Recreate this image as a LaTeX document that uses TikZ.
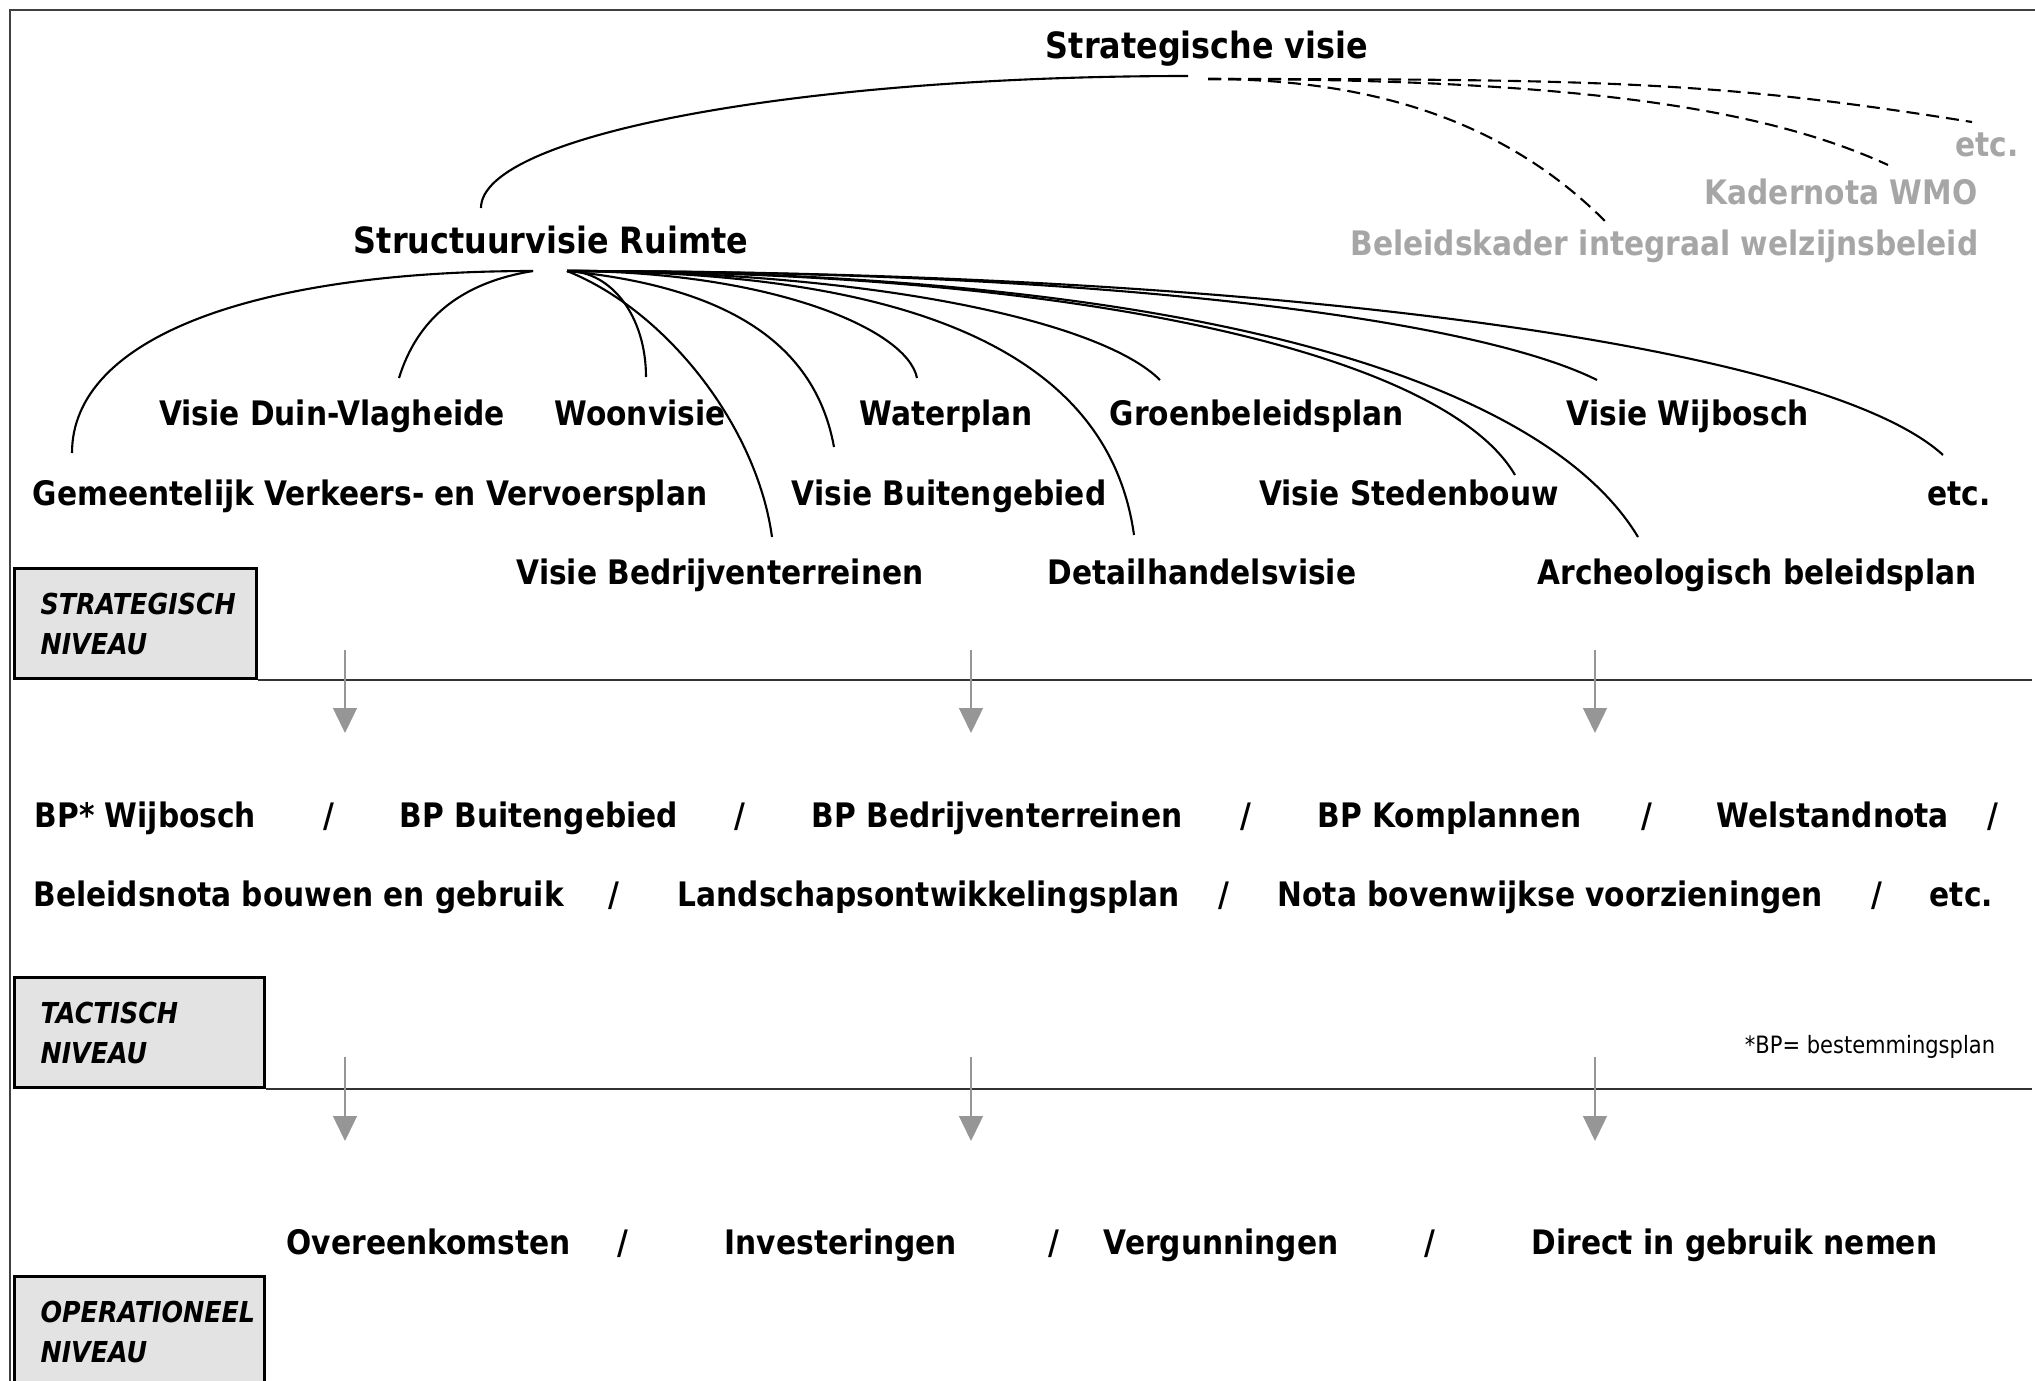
\documentclass[tikz,border=0pt]{standalone}
\usepackage{fontspec}
\setmainfont[FakeStretch=0.88]{DejaVu Sans}
\usepackage{tikz}
\usetikzlibrary{arrows.meta,calc}
\definecolor{notegray}{RGB}{166,166,166}
\definecolor{arrowgray}{RGB}{150,150,150}
\definecolor{boxgray}{RGB}{227,227,227}

\begin{document}
\begin{tikzpicture}[x=0.1mm,y=0.1mm,
  plan/.style={font=\bfseries\fontsize{9.6}{11}\selectfont, inner sep=0pt, text height=7pt, text depth=0pt},
  topplan/.style={plan, font=\bfseries\fontsize{10.3}{12}\selectfont, text height=7.5pt},
  otherplan/.style={plan, text=notegray, anchor=east},
  rowitem/.style={plan, anchor=west},
  levelbox/.style={draw, line width=0.9pt, fill=boxgray, anchor=north west, minimum height=11mm,
    inner xsep=2.6mm, inner ysep=0pt, align=left, font=\bfseries\itshape\fontsize{8.2}{11.4}\selectfont},
  branch/.style={line width=0.6pt},
  otherbranch/.style={branch, dash pattern=on 1.3mm off 0.7mm},
  levelline/.style={line width=0.6pt, draw=black!80},
  levelarrow/.style={draw=arrowgray, line width=0.4pt, -{Triangle[width=2.4mm,length=2.5mm]}}]
  \useasboundingbox (0,0) rectangle (2035,-1381);
  \draw[line width=0.6pt, black!75] (2035,-10) -| (10,-1381);
  % top of the tree
  \node[topplan] (sv) at (1207,-45) {Strategische visie};
  \node[topplan] (sr) at (551,-240) {Structuurvisie Ruimte};
  \node[otherplan] (et1) at (2019,-144) {etc.};
  \node[otherplan] (kn) at (1978,-192) {Kadernota WMO};
  \node[otherplan] (bk) at (1979,-243) {Beleidskader integraal welzijnsbeleid};
  \draw[branch] ($(sv)+(-19,-31)$) .. controls +(-390,0) and +(0,73) .. ($(sr)+(-70,32)$);
  \draw[otherbranch] ($(sv)+(1,-34)$) .. controls +(200,0) and +(-80,80) .. ($(bk.east)+(-373,21)$);
  \draw[otherbranch] ($(sv)+(1,-34)$) .. controls +(350,0) and +(-130,60) .. ($(kn.east)+(-90,27)$);
  \draw[otherbranch] ($(sv)+(1,-34)$) .. controls +(400,0) and +(-250,40) .. ($(et1.east)+(-47,22)$);
  % visies under the structuurvisie
  \node[plan] (dv) at (332,-413) {Visie Duin-Vlagheide};
  \node[plan] (wv) at (640,-413) {Woonvisie};
  \node[plan] (wp) at (946,-413) {Waterplan};
  \node[plan] (gb) at (1257,-413) {Groenbeleidsplan};
  \node[plan] (vw) at (1688,-413) {Visie Wijbosch};
  \node[plan] (gvv) at (370,-493) {Gemeentelijk Verkeers- en Vervoersplan};
  \node[plan] (vb) at (949,-493) {Visie Buitengebied};
  \node[plan] (vs) at (1409,-493) {Visie Stedenbouw};
  \node[plan] (et2) at (1959,-493) {etc.};
  \node[plan] (vbt) at (720,-572) {Visie Bedrijventerreinen};
  \node[plan] (dh) at (1202,-572) {Detailhandelsvisie};
  \node[plan] (ab) at (1757,-572) {Archeologisch beleidsplan};
  \draw[branch] ($(sr)+(-18,-31)$) .. controls +(-280,0) and +(0,115) .. ($(gvv)+(-298,40)$);
  \draw[branch] ($(sr)+(-18,-31)$) .. controls +(-74,-12) and +(18,58) .. ($(dv)+(67,35)$);
  \draw[branch] ($(sr)+(16,-31)$) .. controls +(45,0) and +(0,60) .. ($(wv)+(6,36)$);
  \draw[branch] ($(sr)+(16,-31)$) .. controls +(100,-40) and +(-15,110) .. ($(vbt)+(52,35)$);
  \draw[branch] ($(sr)+(16,-31)$) .. controls +(150,-15) and +(-20,110) .. ($(vb)+(-115,46)$);
  \draw[branch] ($(sr)+(16,-31)$) .. controls +(200,0) and +(-10,50) .. ($(wp)+(-29,35)$);
  \draw[branch] ($(sr)+(16,-31)$) .. controls +(300,0) and +(-60,60) .. ($(gb)+(-97,33)$);
  \draw[branch] ($(sr)+(16,-31)$) .. controls +(350,0) and +(-25,180) .. ($(dh)+(-68,37)$);
  \draw[branch] ($(sr)+(16,-31)$) .. controls +(520,0) and +(-70,120) .. ($(vs)+(106,18)$);
  \draw[branch] ($(sr)+(16,-31)$) .. controls +(650,0) and +(-90,150) .. ($(ab)+(-119,35)$);
  \draw[branch] ($(sr)+(16,-31)$) .. controls +(550,0) and +(-120,60) .. ($(vw)+(-91,33)$);
  \draw[branch] ($(sr)+(16,-31)$) .. controls +(700,0) and +(-120,110) .. ($(et2)+(-16,38)$);
  % levels
  \coordinate (rim) at (2032,0);
  \node[levelbox, minimum width=24.2mm, text width=19mm] (stb) at (13,-567) {STRATEGISCH\\NIVEAU};
  \node[levelbox, minimum width=25mm, text width=19.8mm] (tab) at (13,-976) {TACTISCH\\NIVEAU};
  \node[levelbox, minimum width=25mm, text width=19.8mm] (opb) at (13,-1275) {OPERATIONEEL\\NIVEAU};
  \draw[levelline] (stb.south east) -- (stb.south east -| rim);
  \draw[levelline] (tab.south east) -- (tab.south east -| rim);
  \coordinate (s1) at (345,-650); \coordinate (s1e) at (345,-733);
  \coordinate (s2) at (971,-650); \coordinate (s2e) at (971,-733);
  \coordinate (s3) at (1595,-650); \coordinate (s3e) at (1595,-733);
  \coordinate (t1) at (345,-1057); \coordinate (t1e) at (345,-1141);
  \coordinate (t2) at (971,-1057); \coordinate (t2e) at (971,-1141);
  \coordinate (t3) at (1595,-1057); \coordinate (t3e) at (1595,-1141);
  \draw[levelarrow] (s1) -- (s1e);
  \draw[levelarrow] (s2) -- (s2e);
  \draw[levelarrow] (s3) -- (s3e);
  \draw[levelarrow] (t1) -- (t1e);
  \draw[levelarrow] (t2) -- (t2e);
  \draw[levelarrow] (t3) -- (t3e);
  % tactisch
  \node[rowitem] (bpw) at (34,-815) {BP* Wijbosch};
  \node[plan] (sa1) at (329,-815) {/};
  \node[rowitem] (bpb) at (399,-815) {BP Buitengebied};
  \node[plan] (sa2) at (740,-815) {/};
  \node[rowitem] (bpbt) at (811,-815) {BP Bedrijventerreinen};
  \node[plan] (sa3) at (1246,-815) {/};
  \node[rowitem] (bpk) at (1317,-815) {BP Komplannen};
  \node[plan] (sa4) at (1647,-815) {/};
  \node[rowitem] (wsn) at (1716,-815) {Welstandnota};
  \node[plan] (sa5) at (1993,-815) {/};
  \node[rowitem] (bbg) at (33,-894) {Beleidsnota bouwen en gebruik};
  \node[plan] (sb1) at (614,-894) {/};
  \node[rowitem] (lop) at (677,-894) {Landschapsontwikkelingsplan};
  \node[plan] (sb2) at (1224,-894) {/};
  \node[rowitem] (nbv) at (1277,-894) {Nota bovenwijkse voorzieningen};
  \node[plan] (sb3) at (1877,-894) {/};
  \node[rowitem] (et3) at (1929,-894) {etc.};
  \node[font=\fontsize{6.8}{8}\selectfont, inner sep=0pt] (fn) at (1870,-1047) {*BP= bestemmingsplan};
  % operationeel
  \node[rowitem] (ovk) at (286,-1242) {Overeenkomsten};
  \node[plan] (sc1) at (623,-1242) {/};
  \node[rowitem] (inv) at (724,-1242) {Investeringen};
  \node[plan] (sc2) at (1054,-1242) {/};
  \node[rowitem] (vgn) at (1103,-1242) {Vergunningen};
  \node[plan] (sc3) at (1430,-1242) {/};
  \node[rowitem] (dig) at (1531,-1242) {Direct in gebruik nemen};
\end{tikzpicture}
\end{document}
